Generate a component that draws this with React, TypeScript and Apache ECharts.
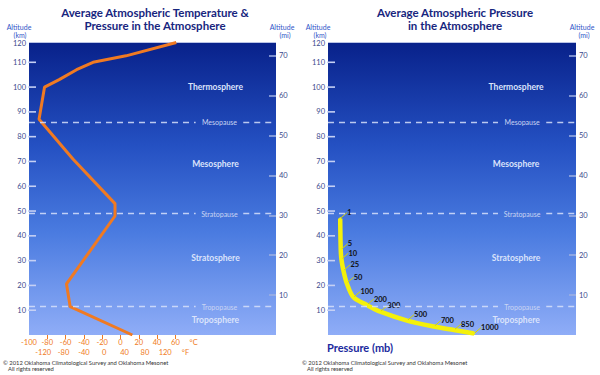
import React, { useEffect, useRef } from "react";
import * as echarts from "echarts";

// ---- Data ----
const tempAltitudeKm = [0, 11.4, 20.6, 48, 53, 71, 87, 100, 103, 107, 110, 112.6, 118];
const temperatureC = [13, -55, -59, -6, -6, -52, -89, -83, -67, -48, -30, 6, 61];

const pressureLevelsMb = [1, 5, 10, 25, 50, 100, 200, 300, 500, 700, 850, 1000];
const pressureAltitudeKm = [47, 34.4, 30.6, 26, 20.9, 15.2, 12.1, 9.4, 5.8, 3.4, 2.0, 0.6];

const kmTicks = [10, 20, 30, 40, 50, 60, 70, 80, 90, 100, 110];
const miTicks = [10, 20, 30, 40, 50, 60, 70];
const celsiusTicks = [-80, -60, -40, -20, 0, 20, 40, 60];
const celsiusLabels = [-100, -80, -60, -40, -20, 0, 20, 40, 60, 80];
const fahrenheitLabels = [-120, -80, -40, 0, 40, 80, 120, 160];

const layers = [
  { name: "Thermosphere", km: 100 },
  { name: "Mesosphere", km: 69 },
  { name: "Stratosphere", km: 31 },
  { name: "Troposphere", km: 6 },
];
const pauses = [
  { name: "Mesopause", km: 86 },
  { name: "Stratopause", km: 49 },
  { name: "Tropopause", km: 11.4 },
];

const KM_PER_MI = 1.609344;
const FONT = "Lato, 'Liberation Sans', sans-serif";
const NAVY = "#17267e";
const AXIS_TEXT = "#3b4a8c";
const ORANGE = "#f07a22";
const TICK_COLOR = "#c5d0f4";

function annotationSeries(
  xAxisIndex: number,
  yAxisIndex: number,
  xMin: number,
  xMax: number,
  layerX: number,
  pauseX: number,
  gapHalf: number
) {
  const segs: any[] = [];
  pauses.forEach((p) => {
    segs.push([{ coord: [xMin, p.km] }, { coord: [pauseX - gapHalf, p.km] }]);
    segs.push([{ coord: [pauseX + gapHalf, p.km] }, { coord: [xMax, p.km] }]);
  });
  const pts: any[] = [];
  layers.forEach((l) =>
    pts.push({
      coord: [layerX, l.km],
      name: l.name,
      label: { fontSize: 8.5, fontWeight: "bold", color: "#dbe3fb" },
    })
  );
  pauses.forEach((p) =>
    pts.push({
      coord: [pauseX, p.km],
      name: p.name,
      label: { fontSize: 7, fontWeight: "normal", color: "#c9d4f3" },
    })
  );
  return {
    type: "line",
    xAxisIndex,
    yAxisIndex,
    data: [],
    z: 1,
    silent: true,
    markLine: {
      silent: true,
      symbol: ["none", "none"],
      label: { show: false },
      lineStyle: { color: "rgba(215,225,250,0.85)", width: 1.3, type: [6, 5] },
      data: segs,
    },
    markPoint: {
      silent: true,
      symbol: "circle",
      symbolSize: 1,
      itemStyle: { color: "rgba(0,0,0,0)" },
      label: { show: true, position: "inside", formatter: "{b}", fontFamily: FONT },
      data: pts,
    },
  };
}

function kmAxis(gridIndex: number) {
  return {
    type: "value",
    gridIndex,
    min: 0,
    max: 120,
    position: "left",
    axisLine: { show: false, onZero: false },
    splitLine: { show: false },
    axisTick: { show: false },
    axisLabel: {
      customValues: kmTicks,
      margin: 3,
      fontSize: 7.5,
      color: AXIS_TEXT,
      fontFamily: FONT,
    },
  };
}
function miAxis(gridIndex: number) {
  return {
    type: "value",
    gridIndex,
    min: 0,
    max: 120 / KM_PER_MI,
    position: "right",
    z: 5,
    axisLine: { show: false, onZero: false },
    splitLine: { show: false },
    axisTick: {
      show: true,
      inside: true,
      length: 7,
      customValues: miTicks,
      lineStyle: { color: "#9fb0e2", width: 1.5 },
    },
    axisLabel: {
      customValues: miTicks,
      margin: 3,
      fontSize: 7.5,
      color: AXIS_TEXT,
      fontFamily: FONT,
    },
  };
}

const bgGradient = () =>
  new echarts.graphic.LinearGradient(0, 0, 0, 1, [
    { offset: 0, color: "#08218a" },
    { offset: 0.35, color: "#2450c2" },
    { offset: 0.65, color: "#4a7be0" },
    { offset: 1, color: "#8fadf7" },
  ]);

function txt(x: number, y: number, text: string, font: string, fill: string, align = "center") {
  return {
    type: "text",
    x,
    y,
    z: 10,
    style: { text, font, fill, textAlign: align, textVerticalAlign: "middle" },
  };
}

export default function App() {
  const ref = useRef<HTMLDivElement>(null);
  useEffect(() => {
    if (!ref.current) return;
    const chart = echarts.init(ref.current, null, { renderer: "svg" });
    const PLOT_TOP = 42;
    const PLOT_BOTTOM = 335;
    const LEFT0 = 29;
    const LEFT1 = 328;
    const staticGraphics: any[] = [
      {
        type: "rect",
        z: -1,
        shape: { x: LEFT0, y: PLOT_TOP, width: 247, height: PLOT_BOTTOM - PLOT_TOP },
        style: { fill: bgGradient() },
      },
      {
        type: "rect",
        z: -1,
        shape: { x: LEFT1, y: PLOT_TOP, width: 248, height: PLOT_BOTTOM - PLOT_TOP },
        style: { fill: bgGradient() },
      },
      {
        type: "line",
        z: 0,
        shape: { x1: LEFT0, y1: PLOT_TOP + 0.5, x2: 276, y2: PLOT_TOP + 0.5 },
        style: { stroke: "#b9c3e6", lineWidth: 1 },
      },
      {
        type: "line",
        z: 0,
        shape: { x1: LEFT1, y1: PLOT_TOP + 0.5, x2: 576, y2: PLOT_TOP + 0.5 },
        style: { stroke: "#b9c3e6", lineWidth: 1 },
      },
      txt(155, 12.5, "Average Atmospheric Temperature &", `bold 11.5px ${FONT}`, NAVY),
      txt(155, 25.5, "Pressure in the Atmosphere", `bold 11.5px ${FONT}`, NAVY),
      txt(455, 12.5, "Average Atmospheric Pressure", `bold 11.5px ${FONT}`, NAVY),
      txt(455, 25.5, "in the Atmosphere", `bold 11.5px ${FONT}`, NAVY),
      txt(19, 27, "Altitude", `7px ${FONT}`, "#2f55c8"),
      txt(20, 34.5, "(km)", `7px ${FONT}`, "#2f55c8"),
      txt(282, 27, "Altitude", `7px ${FONT}`, "#2f55c8"),
      txt(285, 34.5, "(mi)", `7px ${FONT}`, "#2f55c8"),
      txt(318, 27, "Altitude", `7px ${FONT}`, "#2f55c8"),
      txt(320, 34.5, "(km)", `7px ${FONT}`, "#2f55c8"),
      txt(582, 27, "Altitude", `7px ${FONT}`, "#2f55c8"),
      txt(584, 34.5, "(mi)", `7px ${FONT}`, "#2f55c8"),
      txt(26, 43.5, "120", `7.5px ${FONT}`, AXIS_TEXT, "right"),
      txt(325, 43.5, "120", `7.5px ${FONT}`, AXIS_TEXT, "right"),
      txt(327, 347, "Pressure (mb)", `bold 11px ${FONT}`, "#1b2a9e", "left"),
      txt(3, 362.5, "© 2012 Oklahoma Climatological Survey and Oklahoma Mesonet", `5.8px ${FONT}`, "#333333", "left"),
      txt(8, 368.5, "All rights reserved", `5.8px ${FONT}`, "#333333", "left"),
      txt(302, 362.5, "© 2012 Oklahoma Climatological Survey and Oklahoma Mesonet", `5.8px ${FONT}`, "#333333", "left"),
      txt(307, 368.5, "All rights reserved", `5.8px ${FONT}`, "#333333", "left"),
    ];
    const option: any = {
      animation: false,
      backgroundColor: "#ffffff",
      grid: [
        { left: LEFT0, right: 324, top: 37.5, bottom: 40 },
        { left: LEFT1, right: 24, top: 37.5, bottom: 40 },
      ],
      xAxis: [
        {
          type: "value",
          gridIndex: 0,
          min: -100,
          max: 170,
          position: "bottom",
          axisLine: { show: false, onZero: false },
          splitLine: { show: false },
          axisTick: {
            show: true,
            length: 4,
            customValues: celsiusTicks,
            lineStyle: { color: ORANGE, width: 1 },
          },
          axisLabel: {
            customValues: celsiusLabels,
            formatter: (v: number) => (v === 80 ? "°C" : String(v)),
            margin: 3,
            fontSize: 7.5,
            color: ORANGE,
            fontFamily: FONT,
          },
        },
        {
          type: "value",
          gridIndex: 0,
          min: -148,
          max: 338,
          position: "bottom",
          offset: 10,
          axisLine: { show: false, onZero: false },
          splitLine: { show: false },
          axisTick: { show: false },
          axisLabel: {
            customValues: fahrenheitLabels,
            formatter: (v: number) => (v === 160 ? "°F" : String(v)),
            margin: 3,
            fontSize: 7.5,
            color: ORANGE,
            fontFamily: FONT,
          },
        },
        {
          type: "value",
          gridIndex: 1,
          min: -90,
          max: 1760,
          show: false,
          axisLine: { onZero: false },
        },
      ],
      yAxis: [kmAxis(0), miAxis(0), kmAxis(1), miAxis(1)],
      series: [
        annotationSeries(0, 0, -100, 170, 103.8, 108.2, 26),
        {
          type: "line",
          xAxisIndex: 0,
          yAxisIndex: 0,
          z: 3,
          symbol: "none",
          lineStyle: { color: ORANGE, width: 3 },
          data: temperatureC.map((t, i) => [t, tempAltitudeKm[i]]),
        },
        annotationSeries(2, 2, -90, 1760, 1313, 1358, 180),
        {
          type: "line",
          xAxisIndex: 2,
          yAxisIndex: 2,
          z: 3,
          symbol: "circle",
          symbolSize: 2,
          showSymbol: true,
          smooth: 0.3,
          itemStyle: { color: "#f4f10a" },
          lineStyle: { color: "#f4f10a", width: 4.5 },
          data: pressureLevelsMb.map((p, i) => [p, pressureAltitudeKm[i]]),
          label: {
            show: true,
            position: "right",
            distance: 6,
            formatter: (p: any) => String(p.value[0]),
            fontSize: 7.5,
            fontWeight: "bold",
            color: "#111111",
            fontFamily: FONT,
          },
          labelLayout: { dy: -6 },
          labelLine: { show: true, lineStyle: { color: "#d6d400", width: 1 } },
        },
      ],
      graphic: { elements: staticGraphics },
    };
    chart.setOption(option);

    // km ticks inside the left edge of each plot, placed through the y axes' scales
    const tickEls: any[] = [];
    [
      { yAxisIndex: 0, x: LEFT0 },
      { yAxisIndex: 2, x: LEFT1 },
    ].forEach((a) => {
      kmTicks.forEach((k) => {
        const y = chart.convertToPixel({ yAxisIndex: a.yAxisIndex }, k) as number;
        if (typeof y === "number" && isFinite(y)) {
          tickEls.push({
            type: "line",
            z: 5,
            shape: { x1: a.x - 1, y1: y, x2: a.x + 7, y2: y },
            style: { stroke: TICK_COLOR, lineWidth: 1.6 },
          });
        }
      });
    });
    chart.setOption({ graphic: { elements: staticGraphics.concat(tickEls) } });

    return () => chart.dispose();
  }, []);
  return (
    <div
      ref={ref}
      style={{ position: "fixed", left: 0, top: 0, width: 600, height: 375 }}
    />
  );
}
